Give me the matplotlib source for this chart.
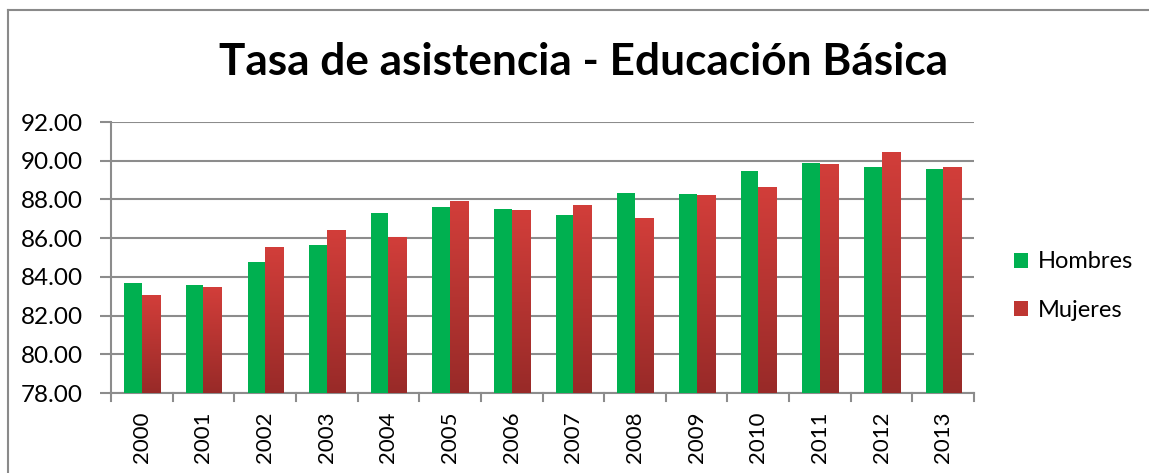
import matplotlib
matplotlib.use("Agg")
import matplotlib.pyplot as plt
import numpy as np
from matplotlib.colors import LinearSegmentedColormap
from matplotlib.patches import Patch
from matplotlib.lines import Line2D

years = ["2000", "2001", "2002", "2003", "2004", "2005", "2006",
         "2007", "2008", "2009", "2010", "2011", "2012", "2013"]
hombres = [83.67, 83.60, 84.77, 85.65, 87.30, 87.62, 87.52,
           87.18, 88.33, 88.29, 89.49, 89.87, 89.67, 89.55]
mujeres = [83.02, 83.43, 85.54, 86.42, 86.01, 87.91, 87.45,
           87.71, 86.99, 88.22, 88.64, 89.82, 90.44, 89.67]
yticks = [78, 80, 82, 84, 86, 88, 90, 92]
title = "Tasa de asistencia - Educación Básica"

W, H = 1149, 473
fig = plt.figure(figsize=(W / 100, H / 100), dpi=100)
ax = fig.add_axes([111 / W, 1 - 393 / H, (974 - 111) / W, (393 - 122) / H])

font = "Lato"
green = "#00B050"
red_top = "#D23E3A"
red_bot = "#982A28"
grid_c = "#8C8C8C"
ymin = 78

x = np.arange(len(years))
bw = 0.285
gbars = ax.bar(x - bw / 2, np.array(hombres) - ymin, bw, bottom=ymin,
               color=green, edgecolor="none", zorder=3)
cmap = LinearSegmentedColormap.from_list("r", [red_bot, red_top])
grad = np.linspace(0, 1, 256).reshape(-1, 1)
for xi, v in zip(x, mujeres):
    x0 = xi + 0.0
    ax.imshow(grad, extent=[x0, x0 + bw + 0.01, ymin, v], origin="lower",
              cmap=cmap, aspect="auto", zorder=3, interpolation="bilinear")

ax.set_xlim(-0.5, len(years) - 0.5)
ax.set_ylim(ymin, 92)
ax.set_yticks(yticks)
ax.set_yticklabels([f"{t:.2f}" for t in yticks], fontsize=17.5, family=font)
ax.set_xticks(x)
ax.set_xticklabels(years, rotation=90, fontsize=16, family=font)
ax.tick_params(axis="x", length=0, pad=13)
ax.tick_params(axis="y", length=8, width=1.5, color=grid_c, pad=12)
for b in np.arange(-0.5, len(years), 1.0):
    ax.plot([b, b], [0, -0.03], transform=ax.get_xaxis_transform(),
            color=grid_c, lw=1.5, clip_on=False, zorder=4)
ax.grid(axis="y", color=grid_c, lw=1.5, zorder=0)
for s in ["top", "right"]:
    ax.spines[s].set_visible(False)
for s in ["left", "bottom"]:
    ax.spines[s].set_color(grid_c)
    ax.spines[s].set_linewidth(1.5)

fig.text(583 / W, 1 - 62 / H, title, ha="center", va="center",
         fontsize=31.8, fontweight="bold", family=font)

handles = [Patch(facecolor=green, edgecolor="none"),
           Patch(facecolor="#BE3632", edgecolor="none")]
fig.legend(handles, ["Hombres", "Mujeres"], loc="center left",
           bbox_to_anchor=(993 / W, 1 - 286 / H), frameon=False,
           prop={"family": font, "size": 17}, handlelength=0.6,
           handleheight=0.6, handletextpad=0.4, labelspacing=1.15)

fig.add_artist(Line2D([8 / W, 1], [1 - 10 / H, 1 - 10 / H],
                      transform=fig.transFigure, color="#8A8A8A", lw=1.5))
fig.add_artist(Line2D([8 / W, 8 / W], [0, 1 - 10 / H],
                      transform=fig.transFigure, color="#8A8A8A", lw=1.5))

fig.savefig("out.png", dpi=100)
